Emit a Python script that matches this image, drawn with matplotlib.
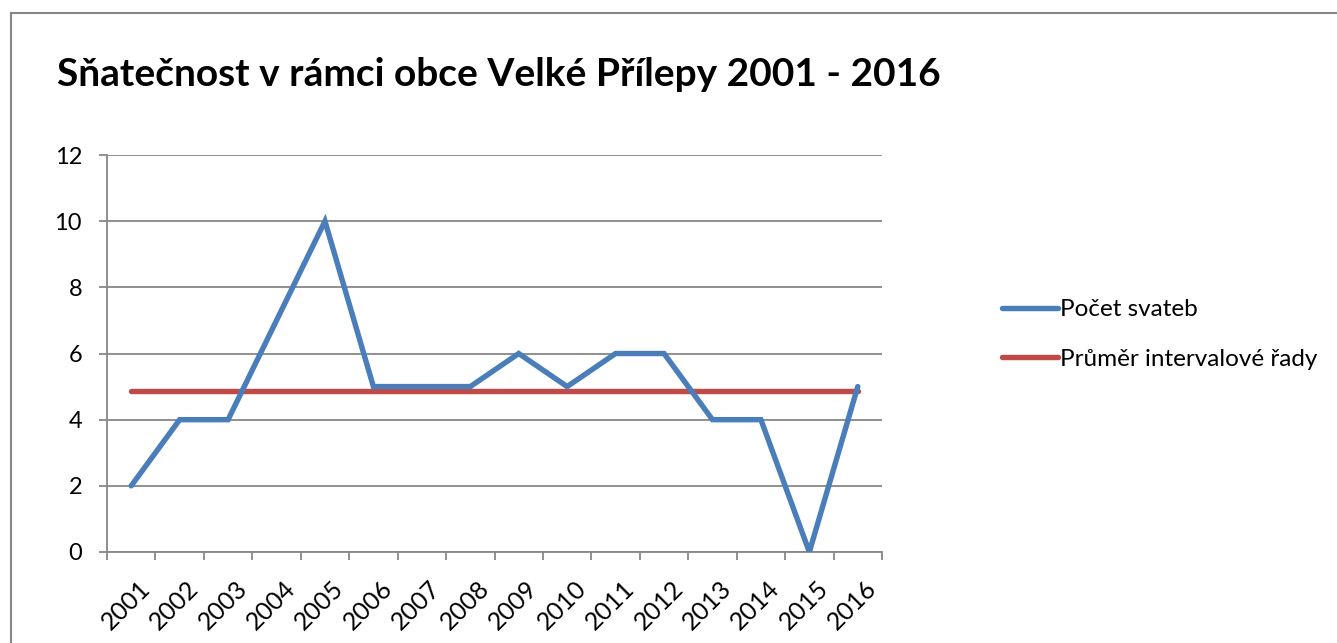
import matplotlib
matplotlib.use("Agg")
import matplotlib.pyplot as plt
from matplotlib.lines import Line2D
from matplotlib.transforms import ScaledTranslation
import numpy as np

years = ["2001", "2002", "2003", "2004", "2005", "2006", "2007", "2008",
         "2009", "2010", "2011", "2012", "2013", "2014", "2015", "2016"]
weddings = [2, 4, 4, 7, 10, 5, 5, 5, 6, 5, 6, 6, 4, 4, 0, 5]
mean_value = sum(weddings) / len(weddings)
mean_series = [mean_value] * len(years)
y_ticks = [0, 2, 4, 6, 8, 10, 12]

title = "Sňatečnost v rámci obce Velké Přílepy 2001 - 2016"
label_count = "Počet svateb"
label_mean = "Průměr intervalové řady"

plt.rcParams['font.family'] = ['Lato', 'DejaVu Sans']

W, H = 1337, 643
fig = plt.figure(figsize=(W / 100, H / 100), dpi=100)
ax = fig.add_axes([107 / W, 1 - 552 / H, (882 - 107) / W, (552 - 155) / H])

grid_c = "#878787"
blue = "#4A7EBB"
red = "#BE4B48"

x = np.arange(len(years))
l1, = ax.plot(x, weddings, color=blue, lw=3.9, solid_capstyle='round',
              solid_joinstyle='miter', zorder=3)
l2, = ax.plot(x, mean_series, color=red, lw=3.9, solid_capstyle='round', zorder=2)

ax.set_xlim(-0.5, len(years) - 0.5)
ax.set_ylim(0, 12)
ax.set_yticks(y_ticks)
ax.set_yticklabels([str(v) for v in y_ticks])
ax.yaxis.grid(True, color=grid_c, lw=1.3)
ax.set_axisbelow(True)

for s in ['top', 'right']:
    ax.spines[s].set_visible(False)
for s in ['left', 'bottom']:
    ax.spines[s].set_color(grid_c)
    ax.spines[s].set_linewidth(1.3)

ax.tick_params(axis='y', length=6, width=1.3, color=grid_c, pad=12,
               labelsize=17)
ax.set_xticks(x)
ax.set_xticklabels(years, rotation=45, ha='right', rotation_mode='anchor',
                   fontsize=18)
ax.set_xticks(np.arange(-0.5, len(years), 1.0), minor=True)
ax.tick_params(axis='x', which='major', length=0, pad=13)
ax.tick_params(axis='x', which='minor', length=6, width=1.3, color=grid_c)
offset = ScaledTranslation(7 / 100, -6 / 100, fig.dpi_scale_trans)
for lab in ax.get_xticklabels():
    lab.set_transform(lab.get_transform() + offset)

fig.text(57 / W, 1 - 75 / H, title, fontsize=28, fontweight='bold',
         va='center', ha='left')

leg = fig.legend([l1, l2], [label_count, label_mean],
                 loc='upper left', bbox_to_anchor=(990 / W, 1 - 287 / H),
                 frameon=False, fontsize=17.5, handlelength=2.3,
                 handletextpad=0.1, labelspacing=1.17, borderpad=0)

# outer chart border (left and top edges visible)
fig.add_artist(Line2D([11 / W, 11 / W], [0, 1 - 13 / H], color="#868686",
                      lw=1.5, transform=fig.transFigure))
fig.add_artist(Line2D([11 / W, 1], [1 - 13 / H, 1 - 13 / H], color="#868686",
                      lw=1.5, transform=fig.transFigure))

fig.savefig("out.png", dpi=100)
